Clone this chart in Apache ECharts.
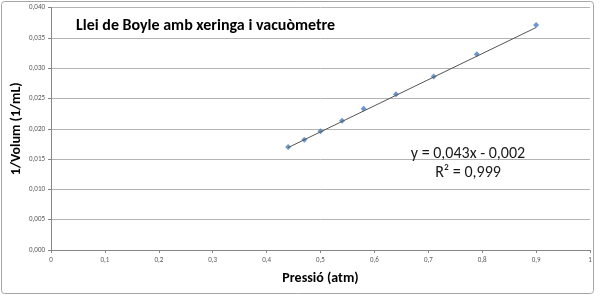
<!DOCTYPE html>
<html><head><meta charset="utf-8">
<script src="https://cdn.jsdelivr.net/npm/echarts@6/dist/echarts.min.js"></script>
<style>html,body{margin:0;padding:0;background:#fff}#c{width:600px;height:295px}</style>
</head><body><div id="c"></div>
<script>
const titleText = "Llei de Boyle amb xeringa i vacuòmetre";
const xAxisName = "Pressió (atm)";
const yAxisName = "1/Volum (1/mL)";
const pressure = [0.44, 0.47, 0.50, 0.54, 0.58, 0.64, 0.71, 0.79, 0.90];
const invVolume = [0.0170, 0.0182, 0.0196, 0.0213, 0.0233, 0.0257, 0.0286, 0.0323, 0.0371];
const trendX = [0.44, 0.90];
const trendY = [0.0169, 0.0367];
const equationText = "y = 0,043x - 0,002";
const r2Text = "R² = 0,999";

const FONT = 'Carlito, "Open Sans", sans-serif';
const chart = echarts.init(document.getElementById('c'), null, {renderer: 'canvas'});
chart.setOption({
  animation: false,
  backgroundColor: '#fff',
  title: [
    {text: titleText, left: 71, top: 13, textStyle: {fontFamily: FONT, fontSize: 16, fontWeight: 'bold', color: '#000'}},
    {text: equationText, subtext: r2Text, left: 463, top: 141, itemGap: 3, textAlign: 'center',
     textStyle: {fontFamily: FONT, fontSize: 16, fontWeight: 'normal', color: '#1a1a1a'},
     subtextStyle: {fontFamily: FONT, fontSize: 16, color: '#1a1a1a'}}
  ],
  graphic: [{type: 'rect', shape: {x: 1.5, y: 1.5, width: 592, height: 292, r: 3}, style: {fill: 'none', stroke: '#a6a6a6', lineWidth: 1}, silent: true}],
  grid: {left: 51, right: 10, top: 7.5, bottom: 45, containLabel: false, outerBoundsMode: 'none'},
  xAxis: {
    type: 'value', min: 0, max: 1, interval: 0.1,
    name: xAxisName, nameLocation: 'middle', nameGap: 21, nameMoveOverlap: false,
    nameTextStyle: {fontFamily: FONT, fontSize: 14, fontWeight: 'bold', color: '#000'},
    axisLine: {show: true, lineStyle: {color: '#868686'}},
    axisTick: {show: true, length: 3, lineStyle: {color: '#868686'}},
    splitLine: {show: false},
    axisLabel: {fontSize: 7, color: '#595959', margin: 7, fontFamily: FONT,
      formatter: v => (v === 0 || v === 1) ? String(v) : v.toFixed(1).replace('.', ',')}
  },
  yAxis: {
    type: 'value', min: 0, max: 0.04, interval: 0.005,
    name: yAxisName, nameLocation: 'middle', nameGap: 28, nameMoveOverlap: false,
    nameTextStyle: {fontFamily: FONT, fontSize: 14, fontWeight: 'bold', color: '#000'},
    axisLine: {show: true, lineStyle: {color: '#868686'}},
    axisTick: {show: true, length: 3, lineStyle: {color: '#868686'}},
    splitLine: {show: true, lineStyle: {color: '#b3b3b3', width: 1}},
    axisLabel: {fontSize: 7, color: '#595959', margin: 6, fontFamily: FONT,
      formatter: v => v.toFixed(3).replace('.', ',')}
  },
  series: [
    {type: 'line', data: trendX.map((x, i) => [x, trendY[i]]), showSymbol: false, symbol: 'none',
     lineStyle: {color: '#555', width: 1}, silent: true},
    {type: 'scatter', data: pressure.map((x, i) => [x, invVolume[i]]), symbol: 'diamond', symbolSize: 6,
     itemStyle: {color: '#4a7ebb'}}
  ]
});
</script></body></html>
